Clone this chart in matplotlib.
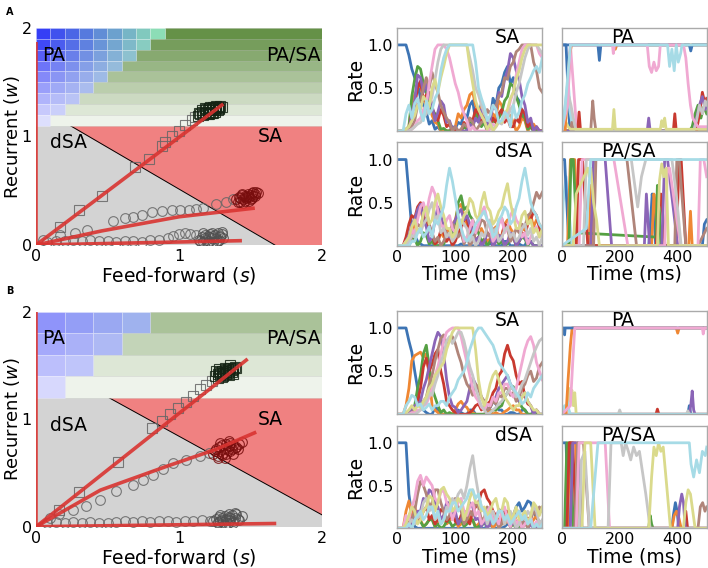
import numpy as np
import matplotlib
matplotlib.use("Agg")
import matplotlib.pyplot as plt
from matplotlib.patches import Polygon

# ---------------- phase diagrams (feed-forward s vs recurrent w) ----------------
a_split = 1.1                       # lower edge of the PA / PA-SA band
a_edge_s = [0.24, 1.67]             # dSA / SA boundary
a_edge_w = [1.1, 0.0]
a_blue_cols = [9, 8, 7, 6, 5, 4, 3, 2, 1]     # PA cells per row (top to bottom)
a_blue_alpha = [0.9, 0.85, 0.75, 0.65, 0.55, 0.45, 0.35, 0.25, 0.15]
a_green_alpha = [0.9, 0.8, 0.7, 0.6, 0.5, 0.4, 0.3, 0.2, 0.1]

b_split = 1.2
b_edge_s = [0.51, 2.0]
b_edge_w = [1.2, 0.11]
b_blue_cols = [4, 3, 2, 1]
b_blue_alpha = [0.5, 0.4, 0.3, 0.18]
b_green_alpha = [0.5, 0.35, 0.2, 0.1]

# fitted lines (red)
a_fit_s = [[0, 1.31], [0, 0.46, 1.0, 1.53], [0, 1.44], [0, 0]]
a_fit_w = [[0, 1.30], [0, 0.13, 0.26, 0.34], [0, 0.04], [0, 1.87]]
b_fit_s = [[0, 1.48], [0, 0.45, 0.91, 1.26, 1.54], [0, 1.68], [0, 0]]
b_fit_w = [[0, 1.56], [0, 0.34, 0.56, 0.72, 0.88], [0, 0.03], [0, 2.0]]

# trajectories: squares, middle circles, lower circles
a_sq_s = [0.17, 0.30, 0.46, 0.69, 0.79, 0.88, 0.90, 0.95, 1.00, 1.04, 1.09, 1.11]
a_sq_w = [0.17, 0.32, 0.45, 0.72, 0.79, 0.91, 0.95, 1.00, 1.05, 1.11, 1.15, 1.18]
a_sq_end_s = [1.13, 1.15, 1.16, 1.18, 1.19, 1.20, 1.21, 1.22, 1.23, 1.24, 1.25, 1.26, 1.27, 1.28, 1.29,
              1.30, 1.17, 1.19, 1.21, 1.23, 1.25, 1.27, 1.14, 1.16, 1.18, 1.20, 1.22, 1.24, 1.26, 1.28]
a_sq_end_w = [1.19, 1.21, 1.23, 1.22, 1.25, 1.24, 1.26, 1.23, 1.25, 1.27, 1.24, 1.26, 1.27, 1.25, 1.28,
              1.27, 1.20, 1.22, 1.21, 1.22, 1.23, 1.24, 1.22, 1.24, 1.26, 1.21, 1.27, 1.22, 1.28, 1.26]
a_c1_s = [0.05, 0.17, 0.27, 0.36, 0.54, 0.62, 0.68, 0.74, 0.81, 0.88, 0.95, 1.01, 1.07, 1.12, 1.17, 1.26, 1.33, 1.38]
a_c1_w = [0.05, 0.09, 0.11, 0.14, 0.22, 0.25, 0.26, 0.28, 0.30, 0.31, 0.32, 0.32, 0.32, 0.33, 0.34, 0.38, 0.40, 0.42]
a_c1_end_s = [1.40, 1.42, 1.43, 1.44, 1.45, 1.46, 1.47, 1.48, 1.49, 1.50, 1.51, 1.52, 1.53, 1.54,
              1.55, 1.43, 1.45, 1.47, 1.49, 1.51, 1.53, 1.41, 1.44, 1.46, 1.48, 1.50, 1.52]
a_c1_end_w = [0.42, 0.44, 0.40, 0.46, 0.42, 0.45, 0.43, 0.47, 0.44, 0.46, 0.48, 0.45, 0.47, 0.49,
              0.48, 0.43, 0.39, 0.44, 0.41, 0.43, 0.45, 0.40, 0.47, 0.41, 0.45, 0.42, 0.49]
a_c2_s = [0.08, 0.14, 0.20, 0.26, 0.32, 0.38, 0.44, 0.50, 0.56, 0.62, 0.68, 0.74, 0.80, 0.86, 0.92, 0.96, 1.00, 1.04, 1.08, 1.12]
a_c2_w = [0.03, 0.04, 0.04, 0.05, 0.04, 0.05, 0.04, 0.04, 0.03, 0.04, 0.04, 0.03, 0.05, 0.05, 0.06, 0.08, 0.10, 0.11, 0.10, 0.09]
a_c2_end_s = [1.14, 1.16, 1.17, 1.18, 1.19, 1.20, 1.21, 1.22, 1.23, 1.24, 1.25, 1.26, 1.27, 1.28,
              1.29, 1.30, 1.31, 1.15, 1.18, 1.21, 1.24, 1.27, 1.30, 1.17, 1.20, 1.23, 1.26, 1.29]
a_c2_end_w = [0.05, 0.07, 0.03, 0.09, 0.05, 0.08, 0.04, 0.10, 0.06, 0.03, 0.09, 0.06, 0.11, 0.05,
              0.08, 0.10, 0.06, 0.04, 0.06, 0.07, 0.08, 0.04, 0.12, 0.11, 0.02, 0.11, 0.03, 0.07]

b_sq_s = [0.16, 0.30, 0.57, 0.81, 0.88, 0.94, 0.99, 1.05, 1.10, 1.15, 1.19, 1.23]
b_sq_w = [0.16, 0.32, 0.60, 0.92, 0.98, 1.05, 1.10, 1.16, 1.22, 1.28, 1.32, 1.36]
b_sq_end_s = [1.25, 1.27, 1.28, 1.29, 1.30, 1.31, 1.32, 1.33, 1.34, 1.35, 1.36, 1.37, 1.38, 1.39,
              1.40, 1.27, 1.29, 1.31, 1.33, 1.35, 1.37, 1.26, 1.28, 1.30, 1.32, 1.34, 1.36, 1.38]
b_sq_end_w = [1.40, 1.42, 1.44, 1.41, 1.45, 1.43, 1.46, 1.44, 1.47, 1.45, 1.48, 1.46, 1.47, 1.49,
              1.48, 1.38, 1.43, 1.40, 1.42, 1.41, 1.44, 1.45, 1.47, 1.39, 1.48, 1.43, 1.50, 1.42]
b_c1_s = [0.10, 0.16, 0.26, 0.35, 0.45, 0.56, 0.68, 0.75, 0.82, 0.89, 0.96, 1.05, 1.15, 1.21]
b_c1_w = [0.08, 0.12, 0.16, 0.19, 0.25, 0.33, 0.39, 0.43, 0.48, 0.54, 0.59, 0.62, 0.66, 0.69]
b_c1_end_s = [1.24, 1.26, 1.27, 1.28, 1.29, 1.30, 1.31, 1.32, 1.33, 1.34, 1.35, 1.36, 1.37, 1.38,
              1.40, 1.42, 1.44, 1.27, 1.30, 1.33, 1.36, 1.39, 1.25, 1.29, 1.32, 1.35, 1.38, 1.41]
b_c1_end_w = [0.68, 0.72, 0.66, 0.74, 0.70, 0.76, 0.69, 0.73, 0.77, 0.71, 0.75, 0.78, 0.72, 0.76,
              0.74, 0.77, 0.79, 0.64, 0.67, 0.68, 0.70, 0.73, 0.70, 0.78, 0.64, 0.80, 0.68, 0.72]
b_c2_s = [0.08, 0.14, 0.20, 0.26, 0.32, 0.38, 0.44, 0.50, 0.56, 0.62, 0.68, 0.74, 0.80, 0.86, 0.92, 0.98, 1.04, 1.10, 1.16, 1.22]
b_c2_w = [0.03, 0.04, 0.03, 0.04, 0.03, 0.04, 0.03, 0.03, 0.04, 0.05, 0.04, 0.05, 0.04, 0.05, 0.05, 0.04, 0.05, 0.05, 0.06, 0.05]
b_c2_end_s = [1.24, 1.26, 1.27, 1.28, 1.29, 1.30, 1.31, 1.32, 1.33, 1.34, 1.35, 1.36, 1.37, 1.38,
              1.39, 1.40, 1.42, 1.44, 1.27, 1.30, 1.33, 1.36, 1.39, 1.29, 1.32, 1.35, 1.38, 1.41]
b_c2_end_w = [0.05, 0.07, 0.03, 0.09, 0.05, 0.08, 0.04, 0.10, 0.06, 0.03, 0.09, 0.06, 0.11, 0.05,
              0.08, 0.12, 0.06, 0.10, 0.04, 0.06, 0.07, 0.08, 0.13, 0.11, 0.02, 0.12, 0.03, 0.07]

# ---------------- rate traces ----------------
# short runs: one value every 5 ms from 0 to 250 ms, units 0..9
step_short = 5

a_sa_rates = [
    [1.0, 1.0, 1.0, 1.0, 0.88, 0.72, 0.62, 0.55, 0.38, 0.3, 0.22, 0.08, 0.12, 0.02, 0.05, 0.0, 0.0, 0.0, 0.0, 0.05, 0.03, 0.1, 0.08, 0.2, 0.15, 0.3, 0.35, 0.12, 0.18, 0.32, 0.25, 0.08, 0.12, 0.38, 0.3, 0.5, 0.55, 0.68, 0.75, 0.55, 0.62, 0.4, 0.35, 0.22, 0.15, 0.02, 0.05, 0.0, 0.0, 0.0, 0.0],
    [0, 0, 0, 0.02, 0.05, 0.3, 0.42, 0.5, 0.55, 0.38, 0.3, 0.32, 0.18, 0.1, 0.08, 0.0, 0.02, 0.0, 0.0, 0.02, 0.05, 0.2, 0.15, 0.25, 0.3, 0.42, 0.45, 0.3, 0.22, 0.28, 0.12, 0.02, 0.05, 0.2, 0.15, 0.35, 0.3, 0.12, 0.2, 0.18, 0.1, 0.0, 0.05, 0.15, 0.12, 0.0, 0.05, 0.08, 0.02, 0.0, 0.0],
    [0, 0, 0, 0.02, 0.05, 0.4, 0.6, 0.75, 0.72, 0.55, 0.45, 0.3, 0.25, 0.2, 0.12, 0.02, 0.03, 0.0, 0.0, 0.0, 0.0, 0.0, 0.0, 0.05, 0.02, 0.1, 0.08, 0.2, 0.15, 0.05, 0.1, 0.0, 0.05, 0.12, 0.1, 0.15, 0.22, 0.35, 0.4, 0.55, 0.52, 0.4, 0.3, 0.18, 0.15, 0.02, 0.05, 0.0, 0.0, 0.0, 0.0],
    [0, 0, 0, 0.0, 0.02, 0.2, 0.3, 0.5, 0.58, 0.35, 0.42, 0.45, 0.28, 0.15, 0.12, 0.25, 0.18, 0.05, 0.08, 0.0, 0.02, 0.0, 0.0, 0.1, 0.05, 0.15, 0.12, 0.25, 0.2, 0.1, 0.15, 0.02, 0.08, 0.15, 0.1, 0.2, 0.25, 0.1, 0.15, 0.05, 0.05, 0.15, 0.1, 0.25, 0.2, 0.05, 0.1, 0.0, 0.05, 0.0, 0.0],
    [0, 0, 0, 0.0, 0.0, 0.2, 0.35, 0.65, 0.62, 0.45, 0.55, 0.38, 0.3, 0.12, 0.22, 0.35, 0.3, 0.1, 0.12, 0.02, 0.05, 0.0, 0.0, 0.0, 0.0, 0.08, 0.05, 0.15, 0.1, 0.25, 0.2, 0.05, 0.12, 0.3, 0.25, 0.45, 0.4, 0.6, 0.7, 0.9, 0.85, 0.7, 0.6, 0.4, 0.3, 0.1, 0.15, 0.0, 0.05, 0.0, 0.0],
    [0, 0, 0, 0.0, 0.0, 0.05, 0.12, 0.3, 0.35, 0.5, 0.62, 0.5, 0.68, 0.55, 0.45, 0.3, 0.22, 0.15, 0.1, 0.0, 0.05, 0.0, 0.02, 0.08, 0.05, 0.15, 0.1, 0.0, 0.05, 0.1, 0.12, 0.25, 0.2, 0.3, 0.28, 0.4, 0.45, 0.62, 0.6, 0.75, 0.8, 0.92, 0.95, 1.0, 1.0, 1.0, 1.0, 0.8, 0.7, 0.5, 0.45],
    [0, 0, 0, 0.0, 0.0, 0.02, 0.05, 0.12, 0.15, 0.25, 0.3, 0.55, 0.75, 0.95, 1.0, 1.0, 1.0, 0.95, 0.85, 0.7, 0.55, 0.45, 0.3, 0.2, 0.12, 0.0, 0.05, 0.0, 0.0, 0.0, 0.0, 0.0, 0.02, 0.08, 0.05, 0.12, 0.1, 0.15, 0.2, 0.35, 0.45, 0.65, 0.8, 0.95, 1.0, 1.0, 1.0, 1.0, 1.0, 0.9, 0.85],
    [0, 0, 0, 0.0, 0.0, 0.02, 0.05, 0.08, 0.1, 0.15, 0.2, 0.3, 0.4, 0.6, 0.8, 0.95, 1.0, 1.0, 1.0, 1.0, 1.0, 1.0, 1.0, 1.0, 1.0, 0.85, 0.7, 0.5, 0.42, 0.3, 0.2, 0.15, 0.1, 0.02, 0.05, 0.1, 0.08, 0.2, 0.15, 0.25, 0.3, 0.45, 0.55, 0.7, 0.85, 0.95, 1.0, 1.0, 1.0, 0.95, 0.9],
    [0, 0, 0, 0.02, 0.05, 0.12, 0.18, 0.3, 0.25, 0.4, 0.35, 0.28, 0.5, 0.6, 0.45, 0.62, 0.75, 0.9, 1.0, 1.0, 1.0, 1.0, 1.0, 1.0, 1.0, 0.75, 0.55, 0.35, 0.25, 0.18, 0.12, 0.02, 0.08, 0.0, 0.05, 0.12, 0.1, 0.2, 0.25, 0.38, 0.45, 0.6, 0.7, 0.85, 0.95, 1.0, 1.0, 1.0, 1.0, 1.0, 1.0],
    [0, 0, 0, 0.2, 0.3, 0.15, 0.32, 0.38, 0.22, 0.12, 0.35, 0.2, 0.25, 0.38, 0.45, 0.7, 0.85, 0.95, 1.0, 1.0, 1.0, 1.0, 1.0, 1.0, 1.0, 1.0, 1.0, 0.8, 0.5, 0.38, 0.28, 0.12, 0.18, 0.3, 0.25, 0.1, 0.12, 0.22, 0.18, 0.05, 0.3, 0.15, 0.22, 0.35, 0.42, 0.55, 0.62, 0.7, 0.75, 0.68, 0.85],
]
a_dsa_rates = [
    [1.0, 1.0, 1.0, 1.0, 0.6, 0.2, 0.12, 0.05, 0.02, 0.0, 0.0, 0.0, 0.0, 0.0, 0.0, 0.0, 0.0, 0.0, 0.0, 0.0, 0.0, 0.0, 0.02, 0.0, 0.0, 0.0, 0.0, 0.0, 0.0, 0.0, 0.0, 0.0, 0.03, 0.0, 0.0, 0.0, 0.0, 0.05, 0.05, 0.0, 0.0, 0.0, 0.02, 0.0, 0.0, 0.08, 0.05, 0.0, 0.0, 0.0, 0.0],
    [0, 0, 0, 0.02, 0.05, 0.15, 0.25, 0.4, 0.42, 0.3, 0.28, 0.2, 0.12, 0.02, 0.05, 0.15, 0.1, 0.2, 0.15, 0.25, 0.3, 0.45, 0.48, 0.35, 0.25, 0.1, 0.15, 0.02, 0.05, 0.2, 0.12, 0.05, 0.08, 0.18, 0.22, 0.1, 0.12, 0.25, 0.3, 0.2, 0.15, 0.02, 0.05, 0.2, 0.18, 0.3, 0.35, 0.22, 0.3, 0.25, 0.18],
    [0, 0, 0, 0.02, 0.0, 0.1, 0.08, 0.0, 0.05, 0.15, 0.12, 0.02, 0.05, 0.0, 0.0, 0.0, 0.02, 0.1, 0.08, 0.15, 0.22, 0.5, 0.58, 0.42, 0.45, 0.35, 0.3, 0.2, 0.15, 0.05, 0.08, 0.0, 0.05, 0.12, 0.1, 0.02, 0.05, 0.0, 0.02, 0.08, 0.1, 0.0, 0.05, 0.1, 0.08, 0.0, 0.05, 0.0, 0.0, 0.0, 0.0],
    [0, 0, 0, 0.1, 0.25, 0.35, 0.32, 0.45, 0.5, 0.35, 0.28, 0.2, 0.12, 0.02, 0.05, 0.18, 0.15, 0.05, 0.1, 0.0, 0.05, 0.15, 0.2, 0.3, 0.32, 0.15, 0.22, 0.05, 0.1, 0.0, 0.05, 0.15, 0.12, 0.0, 0.05, 0.12, 0.1, 0.25, 0.22, 0.08, 0.12, 0.0, 0.05, 0.15, 0.12, 0.25, 0.3, 0.4, 0.35, 0.2, 0.12],
    [0, 0, 0, 0.05, 0.12, 0.25, 0.3, 0.42, 0.48, 0.3, 0.22, 0.05, 0.1, 0.3, 0.45, 0.35, 0.22, 0.12, 0.1, 0.22, 0.3, 0.38, 0.42, 0.3, 0.35, 0.25, 0.18, 0.05, 0.1, 0.0, 0.05, 0.15, 0.12, 0.0, 0.05, 0.12, 0.1, 0.0, 0.05, 0.15, 0.12, 0.0, 0.05, 0.12, 0.1, 0.02, 0.05, 0.0, 0.0, 0.0, 0.0],
    [0, 0, 0, 0.0, 0.05, 0.1, 0.12, 0.25, 0.22, 0.35, 0.42, 0.25, 0.15, 0.05, 0.1, 0.0, 0.05, 0.15, 0.12, 0.25, 0.22, 0.1, 0.15, 0.02, 0.1, 0.0, 0.05, 0.15, 0.2, 0.3, 0.28, 0.15, 0.1, 0.2, 0.15, 0.28, 0.32, 0.2, 0.2, 0.05, 0.1, 0.2, 0.15, 0.25, 0.22, 0.35, 0.38, 0.5, 0.62, 0.55, 0.62],
    [0, 0, 0, 0.05, 0.0, 0.2, 0.12, 0.3, 0.45, 0.5, 0.35, 0.55, 0.68, 0.6, 0.4, 0.25, 0.2, 0.3, 0.35, 0.2, 0.15, 0.28, 0.22, 0.05, 0.1, 0.2, 0.3, 0.15, 0.25, 0.38, 0.45, 0.3, 0.2, 0.05, 0.1, 0.25, 0.32, 0.15, 0.2, 0.35, 0.42, 0.3, 0.25, 0.1, 0.15, 0.02, 0.1, 0.18, 0.22, 0.1, 0.15],
    [0, 0, 0, 0.0, 0.05, 0.12, 0.1, 0.2, 0.15, 0.25, 0.3, 0.42, 0.5, 0.3, 0.35, 0.15, 0.2, 0.1, 0.15, 0.05, 0.1, 0.22, 0.3, 0.25, 0.2, 0.05, 0.1, 0.0, 0.05, 0.15, 0.1, 0.22, 0.3, 0.15, 0.2, 0.05, 0.1, 0.18, 0.22, 0.1, 0.15, 0.05, 0.1, 0.2, 0.25, 0.12, 0.2, 0.05, 0.1, 0.0, 0.1],
    [0, 0, 0, 0.05, 0.1, 0.22, 0.3, 0.15, 0.2, 0.38, 0.45, 0.25, 0.3, 0.5, 0.6, 0.45, 0.35, 0.2, 0.2, 0.1, 0.15, 0.3, 0.25, 0.35, 0.4, 0.55, 0.5, 0.35, 0.3, 0.5, 0.62, 0.45, 0.4, 0.25, 0.3, 0.4, 0.45, 0.6, 0.72, 0.5, 0.35, 0.2, 0.2, 0.35, 0.4, 0.25, 0.3, 0.15, 0.2, 0.1, 0.2],
    [0, 0, 0, 0.0, 0.0, 0.05, 0.05, 0.15, 0.2, 0.1, 0.15, 0.22, 0.1, 0.3, 0.25, 0.35, 0.45, 0.7, 0.9, 0.75, 0.55, 0.35, 0.2, 0.1, 0.05, 0.1, 0.15, 0.25, 0.3, 0.35, 0.4, 0.3, 0.25, 0.1, 0.15, 0.3, 0.35, 0.45, 0.4, 0.25, 0.3, 0.45, 0.55, 0.75, 0.9, 0.7, 0.5, 0.4, 0.35, 0.25, 0.2],
]
b_sa_rates = [
    [1.0, 1.0, 1.0, 1.0, 0.85, 0.72, 0.5, 0.3, 0.1, 0.05, 0.02, 0.0, 0.0, 0.08, 0.05, 0.0, 0.0, 0.0, 0.0, 0.0, 0.0, 0.05, 0.02, 0.0, 0.0, 0.05, 0.05, 0.0, 0.0, 0.0, 0.0, 0.05, 0.08, 0.15, 0.12, 0.05, 0.05, 0.0, 0.0, 0.02, 0.02, 0.0, 0.0, 0.05, 0.05, 0.0, 0.0, 0.02, 0.02, 0.0, 0.0],
    [0, 0, 0, 0.1, 0.3, 0.62, 0.68, 0.7, 0.72, 0.66, 0.7, 0.45, 0.1, 0.05, 0.02, 0.0, 0.0, 0.0, 0.0, 0.0, 0.05, 0.12, 0.15, 0.1, 0.08, 0.02, 0.02, 0.0, 0.0, 0.0, 0.0, 0.03, 0.05, 0.0, 0.02, 0.0, 0.0, 0.03, 0.05, 0.08, 0.1, 0.05, 0.05, 0.0, 0.0, 0.0, 0.0, 0.0, 0.0, 0.0, 0.0],
    [0, 0, 0, 0.0, 0.0, 0.05, 0.1, 0.3, 0.45, 0.7, 0.8, 0.55, 0.3, 0.2, 0.1, 0.02, 0.05, 0.0, 0.02, 0.0, 0.0, 0.0, 0.0, 0.0, 0.0, 0.0, 0.0, 0.0, 0.0, 0.0, 0.0, 0.0, 0.02, 0.05, 0.05, 0.08, 0.1, 0.2, 0.25, 0.3, 0.32, 0.2, 0.15, 0.08, 0.05, 0.0, 0.0, 0.0, 0.0, 0.0, 0.0],
    [0, 0, 0, 0, 0, 0.02, 0.05, 0.15, 0.3, 0.55, 0.65, 0.5, 0.58, 0.7, 0.75, 0.5, 0.35, 0.15, 0.1, 0.05, 0.02, 0, 0, 0, 0, 0.02, 0.05, 0.1, 0.12, 0.05, 0.08, 0.12, 0.15, 0.25, 0.3, 0.45, 0.5, 0.7, 0.8, 0.68, 0.62, 0.45, 0.35, 0.38, 0.2, 0.12, 0.1, 0.02, 0.05, 0, 0],
    [0, 0, 0, 0, 0, 0.05, 0.1, 0.12, 0.15, 0.3, 0.4, 0.55, 0.7, 0.85, 0.95, 0.9, 0.7, 0.4, 0.2, 0.1, 0.08, 0.02, 0.05, 0.1, 0.15, 0.3, 0.42, 0.35, 0.3, 0.2, 0.15, 0.05, 0.08, 0.15, 0.2, 0.3, 0.35, 0.4, 0.45, 0.35, 0.3, 0.2, 0.15, 0.2, 0.25, 0.15, 0.1, 0.0, 0.05, 0.0, 0.0],
    [0, 0, 0, 0, 0, 0.02, 0.05, 0.12, 0.1, 0.15, 0.2, 0.35, 0.45, 0.62, 0.75, 0.88, 0.92, 0.8, 0.85, 0.9, 0.82, 0.7, 0.6, 0.45, 0.35, 0.3, 0.22, 0.35, 0.3, 0.2, 0.15, 0.05, 0.08, 0.15, 0.12, 0.22, 0.2, 0.3, 0.3, 0.22, 0.25, 0.15, 0.2, 0.3, 0.35, 0.45, 0.5, 0.38, 0.42, 0.55, 0.6],
    [0, 0, 0, 0, 0, 0.02, 0.02, 0.05, 0.05, 0.1, 0.12, 0.2, 0.3, 0.45, 0.55, 0.7, 0.85, 0.95, 0.98, 1.0, 1.0, 1.0, 0.9, 0.75, 0.6, 0.45, 0.3, 0.2, 0.15, 0.08, 0.05, 0.12, 0.1, 0.2, 0.15, 0.25, 0.25, 0.35, 0.35, 0.25, 0.2, 0.3, 0.45, 0.6, 0.75, 0.85, 0.9, 0.8, 0.6, 0.5, 0.4],
    [0, 0, 0, 0, 0, 0, 0, 0.02, 0.05, 0.1, 0.15, 0.25, 0.22, 0.35, 0.45, 0.6, 0.7, 0.85, 0.9, 0.82, 0.88, 0.95, 0.95, 0.85, 0.7, 0.55, 0.45, 0.3, 0.2, 0.1, 0.05, 0.0, 0.02, 0.05, 0.08, 0.12, 0.15, 0.2, 0.25, 0.3, 0.3, 0.2, 0.25, 0.35, 0.4, 0.5, 0.6, 0.7, 0.78, 0.85, 0.88],
    [0, 0, 0, 0.02, 0.05, 0.1, 0.05, 0.1, 0.08, 0.15, 0.2, 0.3, 0.35, 0.45, 0.5, 0.55, 0.6, 0.75, 0.85, 0.95, 1.0, 1.0, 1.0, 1.0, 1.0, 1.0, 1.0, 0.75, 0.4, 0.2, 0.1, 0.2, 0.35, 0.45, 0.5, 0.4, 0.3, 0.2, 0.15, 0.1, 0.05, 0.1, 0.1, 0.2, 0.25, 0.15, 0.1, 0.05, 0.05, 0.0, 0.0],
    [0, 0, 0, 0.1, 0.15, 0.22, 0.2, 0.1, 0.12, 0.05, 0.08, 0.12, 0.05, 0.1, 0.1, 0.15, 0.15, 0.1, 0.2, 0.25, 0.3, 0.4, 0.45, 0.5, 0.6, 0.75, 0.85, 0.95, 1.0, 1.0, 0.95, 0.9, 0.85, 0.8, 0.7, 0.6, 0.55, 0.5, 0.45, 0.35, 0.3, 0.25, 0.2, 0.12, 0.15, 0.25, 0.2, 0.3, 0.35, 0.4, 0.45],
]
b_dsa_rates = [
    [1.0, 1.0, 1.0, 1.0, 0.4, 0.15, 0.02, 0.0, 0.0, 0.0, 0.0, 0.0, 0.0, 0.0, 0.0, 0.0, 0.0, 0.0, 0.0, 0.0, 0.0, 0.0, 0.0, 0.0, 0.0, 0.0, 0.0, 0.0, 0.0, 0.0, 0.0, 0.02, 0.05, 0.0, 0.0, 0.0, 0.0, 0.02, 0.05, 0.1, 0.15, 0.25, 0.3, 0.2, 0.25, 0.32, 0.3, 0.2, 0.12, 0.08, 0.05],
    [0, 0, 0, 0.2, 0.32, 0.15, 0.25, 0.12, 0.1, 0.02, 0.05, 0.1, 0.12, 0.02, 0.05, 0.1, 0.15, 0.05, 0.08, 0.15, 0.1, 0.02, 0.05, 0.15, 0.2, 0.08, 0.1, 0.02, 0.05, 0.1, 0.12, 0.05, 0.08, 0.0, 0.05, 0.1, 0.15, 0.05, 0.1, 0.02, 0.05, 0.15, 0.2, 0.05, 0.1, 0.0, 0.05, 0.1, 0.15, 0.05, 0.08],
    [0, 0, 0, 0.02, 0.0, 0.05, 0.05, 0.1, 0.08, 0.02, 0.05, 0.1, 0.1, 0.02, 0.05, 0.0, 0.02, 0.08, 0.08, 0.02, 0.05, 0.1, 0.12, 0.02, 0.05, 0.1, 0.1, 0.0, 0.02, 0.05, 0.05, 0.1, 0.08, 0.15, 0.15, 0.02, 0.05, 0.08, 0.1, 0.02, 0.05, 0.0, 0.02, 0.05, 0.05, 0.1, 0.1, 0.02, 0.05, 0.0, 0.02],
    [0, 0, 0, 0.05, 0.1, 0.25, 0.2, 0.08, 0.12, 0.2, 0.25, 0.1, 0.15, 0.05, 0.1, 0.22, 0.2, 0.08, 0.12, 0.2, 0.08, 0.05, 0.15, 0.2, 0.1, 0.05, 0.2, 0.25, 0.3, 0.42, 0.45, 0.35, 0.3, 0.2, 0.15, 0.05, 0.1, 0.2, 0.2, 0.1, 0.15, 0.05, 0.1, 0.0, 0.05, 0.12, 0.1, 0.0, 0.05, 0.02, 0.02],
    [0, 0, 0, 0, 0, 0.05, 0.1, 0.2, 0.2, 0.35, 0.32, 0.45, 0.42, 0.3, 0.25, 0.1, 0.15, 0.3, 0.3, 0.15, 0.2, 0.05, 0.1, 0.2, 0.15, 0.3, 0.25, 0.1, 0.12, 0.02, 0.1, 0.0, 0.05, 0.15, 0.1, 0.22, 0.2, 0.1, 0.12, 0.02, 0.08, 0.0, 0.05, 0.12, 0.1, 0.0, 0.05, 0.0, 0.02, 0.0, 0.0],
    [0, 0, 0, 0.1, 0.05, 0.1, 0.2, 0.4, 0.55, 0.5, 0.4, 0.25, 0.3, 0.45, 0.45, 0.3, 0.2, 0.1, 0.15, 0.3, 0.35, 0.25, 0.2, 0.05, 0.1, 0.2, 0.15, 0.3, 0.25, 0.1, 0.12, 0.25, 0.2, 0.05, 0.1, 0.0, 0.05, 0.15, 0.15, 0.05, 0.1, 0.2, 0.2, 0.05, 0.12, 0.0, 0.1, 0.2, 0.15, 0.25, 0.2],
    [0, 0, 0, 0.15, 0.1, 0.25, 0.35, 0.55, 0.62, 0.5, 0.6, 0.55, 0.5, 0.35, 0.3, 0.42, 0.45, 0.3, 0.25, 0.1, 0.2, 0.3, 0.35, 0.2, 0.15, 0.25, 0.3, 0.15, 0.2, 0.05, 0.1, 0.2, 0.25, 0.1, 0.12, 0.05, 0.2, 0.25, 0.1, 0.02, 0.15, 0.05, 0.1, 0.0, 0.05, 0.1, 0.12, 0.02, 0.08, 0.0, 0.05],
    [0, 0, 0, 0, 0.05, 0.1, 0.05, 0.12, 0.15, 0.3, 0.35, 0.2, 0.25, 0.1, 0.15, 0.05, 0.1, 0.25, 0.2, 0.35, 0.3, 0.4, 0.45, 0.35, 0.5, 0.7, 0.85, 0.6, 0.4, 0.25, 0.2, 0.05, 0.15, 0.2, 0.1, 0.2, 0.2, 0.05, 0.15, 0.2, 0.1, 0.0, 0.05, 0.15, 0.1, 0.2, 0.15, 0.25, 0.2, 0.05, 0.1],
    [0, 0, 0, 0.05, 0.15, 0.25, 0.2, 0.05, 0.1, 0.2, 0.25, 0.38, 0.35, 0.2, 0.3, 0.45, 0.48, 0.4, 0.35, 0.2, 0.25, 0.35, 0.3, 0.1, 0.2, 0.35, 0.45, 0.3, 0.3, 0.2, 0.25, 0.15, 0.2, 0.3, 0.35, 0.2, 0.2, 0.35, 0.3, 0.1, 0.15, 0.25, 0.1, 0.15, 0.2, 0.05, 0.15, 0.3, 0.25, 0.15, 0.25],
    [0, 0, 0, 0, 0.05, 0.0, 0.1, 0.15, 0.2, 0.1, 0.15, 0.25, 0.25, 0.12, 0.2, 0.05, 0.1, 0.2, 0.2, 0.3, 0.3, 0.2, 0.25, 0.3, 0.35, 0.45, 0.45, 0.35, 0.4, 0.25, 0.2, 0.1, 0.15, 0.05, 0.1, 0.2, 0.2, 0.1, 0.15, 0.05, 0.1, 0.15, 0.2, 0.1, 0.15, 0.05, 0.1, 0.0, 0.05, 0.0, 0.05],
]

# long runs: unit id, sample times (ms), rates
a_pa_units = [10, 19, 16, 5, 2, 3, 4, 7, 8, 1, 0, 6, 9]
a_pa_times = [
    [0, 15, 28, 500],
    [0, 12, 22, 30, 40, 500],
    [0, 22, 30, 40, 52, 500],
    [0, 30, 35, 40, 100, 107, 112, 118, 500],
    [0, 440, 450, 460, 470, 480, 490, 500],
    [0, 55, 60, 65, 385, 390, 395, 465, 475, 485, 495, 500],
    [0, 295, 300, 305, 455, 465, 475, 485, 495, 500],
    [0, 15, 25, 32, 40, 50, 455, 465, 475, 485, 495, 500],
    [0, 15, 22, 30, 175, 180, 185, 340, 345, 350, 355, 360, 500],
    [0, 12, 20, 28, 34, 180, 185, 190, 500],
    [0, 125, 130, 135, 440, 445, 450, 500],
    [0, 20, 30, 175, 178, 182, 295, 302, 310, 318, 326, 334, 340, 420, 428, 436, 444, 452, 460, 470, 500],
    [0, 10, 20, 30, 365, 372, 380, 388, 395, 402, 410, 415, 500],
]
a_pa_rates = [
    [1, 1, 0, 0],
    [0, 0.3, 0.6, 0.2, 0, 0],
    [0, 0.4, 1, 0.55, 0, 0],
    [0, 0, 0.1, 0, 0, 0.35, 0.15, 0, 0],
    [0, 0, 0.05, 0.2, 0.3, 0.15, 0.28, 0.2],
    [0, 0, 0.22, 0, 0, 0.2, 0, 0, 0.2, 0.45, 0.3, 0.38],
    [0, 0, 0.15, 0, 0, 0.15, 0.3, 0.4, 0.25, 0.3],
    [0, 0.15, 0.4, 0.3, 0.15, 0, 0, 0.12, 0.3, 0.2, 0.35, 0.3],
    [0, 0.1, 0.05, 0.02, 0.02, 0.25, 0.02, 0.02, 0.12, 0.05, 0.15, 0.02, 0.02],
    [0, 0, 0.5, 0.9, 1, 1, 0.95, 1, 1],
    [1, 1, 0.82, 1, 1, 0.93, 1, 1],
    [0, 0.3, 1, 1, 0.9, 1, 1, 0.75, 0.68, 0.8, 0.7, 0.75, 1, 1, 0.85, 0.55, 0.3, 0.15, 0.1, 0.05, 0.05],
    [0, 0.2, 0.6, 1, 1, 0.75, 0.95, 0.7, 1, 0.8, 0.9, 1, 1],
]

a_pasa_units = [19, 0, 1, 2, 3, 4, 5, 6, 7, 8, 9]
a_pasa_times = [
    [0, 5, 15, 25, 35, 500],
    [0, 10, 25, 300, 305, 312, 318, 324, 485, 492, 500],
    [0, 20, 30, 45, 57, 95, 100, 105, 110, 310, 318, 324, 330, 438, 444, 450, 500],
    [0, 25, 32, 40, 52, 325, 330, 336, 342, 500],
    [0, 50, 58, 72, 90, 326, 335, 342, 350, 356, 395, 405, 412, 428, 500],
    [0, 100, 110, 140, 150, 172, 285, 292, 303, 345, 355, 365, 400, 500],
    [0, 110, 118, 200, 225, 258, 390, 397, 405, 428, 470, 485, 500],
    [0, 60, 70, 120, 125, 180, 228, 355, 365, 372, 410, 470, 478, 490, 500],
    [0, 75, 85, 240, 252, 262, 275, 290, 380, 395, 412, 500],
    [0, 40, 50, 90, 95, 100, 110, 120, 130, 330, 337, 345, 352, 360, 368, 500],
    [0, 85, 100, 500],
]
a_pasa_rates = [
    [0, 0.5, 0.8, 0.4, 0, 0],
    [1, 1, 0, 0, 0.2, 0.6, 0.4, 0, 0, 0.25, 0.3],
    [0, 0, 1, 1, 0, 0, 0.7, 0.6, 0, 0, 0.6, 0.45, 0, 0, 0.4, 0, 0],
    [0, 0, 1, 1, 0.15, 0.1, 0.7, 0.5, 0, 0],
    [0, 0, 1, 1, 0, 0, 0.45, 0.6, 0.3, 0, 0, 1, 1, 0, 0],
    [0, 0, 1, 1, 1, 0, 0, 0.6, 0, 0, 1, 1, 0, 0],
    [0, 0, 1, 1, 1, 0, 0, 1, 1, 0, 0, 0.1, 0.2],
    [0, 0, 1, 1, 1, 1, 0, 0, 0.9, 0.9, 0, 0, 1, 1, 0.8],
    [0, 0, 1, 1, 0.7, 0.45, 0.8, 1, 1, 0.6, 0, 0],
    [0, 0, 0.6, 0.9, 0.8, 0.9, 0.5, 0.3, 0, 0, 0.75, 0.95, 0.8, 0.9, 0, 0],
    [0, 0.2, 1, 1],
]

b_pa_units = [10, 2, 5, 3, 4, 7, 8, 9, 1, 0, 6]
b_pa_times = [
    [0, 435, 440, 445, 500],
    [0, 500],
    [0, 500],
    [0, 325, 330, 335, 500],
    [0, 440, 445, 450, 455, 460, 500],
    [0, 195, 200, 205, 430, 435, 440, 500],
    [0, 20, 25, 30, 35, 40, 45, 50, 500],
    [0, 10, 15, 20, 25, 30, 500],
    [0, 15, 22, 30, 36, 395, 400, 405, 500],
    [0, 8, 10, 12, 500],
    [0, 30, 38, 45, 485, 488, 492, 500],
]
b_pa_rates = [
    [0, 0, 0.1, 0, 0],
    [0, 0],
    [0, 0],
    [0, 0, 0.06, 0, 0],
    [0, 0, 0.1, 0.27, 0.05, 0, 0],
    [0, 0, 0.05, 0, 0, 0.04, 0, 0],
    [0, 0.1, 0.3, 0.15, 0.28, 0.1, 0.25, 0, 0],
    [0, 0.1, 0.05, 0.15, 0.05, 0, 0],
    [0, 0, 0.4, 0.8, 1, 1, 0.94, 1, 1],
    [1, 1, 0.92, 1, 1],
    [0, 0.1, 0.6, 1, 1, 0.93, 1, 1],
]

b_pasa_units = [0, 1, 2, 3, 4, 5, 6, 7, 8, 9]
b_pasa_times = [
    [0, 15, 25, 380, 385, 392, 398, 404, 500],
    [0, 20, 28, 48, 60, 380, 388, 396, 404, 412, 500],
    [0, 10, 18, 30, 40, 300, 305, 310, 315, 500],
    [0, 18, 26, 38, 50, 422, 428, 434, 500],
    [0, 30, 38, 55, 70, 400, 406, 414, 420, 426, 500],
    [0, 45, 55, 75, 95, 470, 478, 486, 494, 500],
    [0, 50, 60, 150, 165, 500],
    [0, 60, 68, 80, 95, 160, 170, 205, 212, 220, 230, 238, 248, 258, 268, 290, 305, 500],
    [0, 70, 80, 100, 115, 300, 310, 318, 326, 334, 342, 350, 362, 375, 420, 428, 436, 444, 452, 460, 500],
    [0, 100, 125, 440, 446, 455, 465, 475, 485, 495, 500],
]
b_pasa_rates = [
    [1, 1, 0, 0, 0.15, 0.3, 0.2, 0, 0],
    [0, 0, 1, 1, 0, 0, 0.15, 0.2, 0.12, 0, 0],
    [0, 0, 1, 1, 0, 0, 0.15, 0.05, 0, 0],
    [0, 0, 1, 1, 0, 0, 0.2, 0, 0],
    [0, 0, 1, 1, 0, 0, 0.25, 0.4, 0.3, 0, 0],
    [0, 0, 1, 1, 0, 0, 0.25, 0.3, 0.2, 0.25],
    [0, 0, 1, 1, 0, 0],
    [0, 0, 0.8, 0.9, 0, 0, 1, 1, 0.85, 1, 0.9, 0.8, 0.95, 0.85, 0.9, 0.4, 0, 0],
    [0, 0, 1, 1, 0, 0, 0.6, 0.95, 0.85, 1, 0.9, 0.95, 0.5, 0, 0, 0.3, 0.45, 0.4, 0.2, 0, 0],
    [0, 0, 1, 1, 0.75, 0.6, 0.8, 0.65, 0.9, 0.85, 0.95],
]

# ---------------- styling ----------------
palette = ['#3d74b4', '#ef8733', '#55a043', '#c8392f', '#8b65b7',
           '#b0857a', '#f0a9d2', '#c6c6c6', '#dada8c', '#a6dbe6']
BLUE = np.array([0.12, 0.16, 0.96])
MINT = np.array([0.50, 0.85, 0.68])
GREEN = np.array([0.33, 0.52, 0.20])
FIT = '#d93431'
LAB = 13.5
TICK = 11.5

plt.rcParams['font.family'] = ['DejaVu Sans']
plt.rcParams['mathtext.fontset'] = 'dejavusans'

fig = plt.figure(figsize=(7.08, 5.68), dpi=100)


def px_axes(left, top, right, bottom):
    return fig.add_axes([left / 708, 1 - bottom / 568, (right - left) / 708, (bottom - top) / 568])


def tint(base, a):
    return tuple(1 - a * (1 - base))


def phase(ax, split, edge_s, edge_w, blue_cols, blue_alpha, green_alpha, mint_max,
          fit_s, fit_w, trajs):
    nrow = len(blue_cols)
    h = (2 - split) / nrow
    # region backgrounds
    ax.add_patch(Polygon([(0, 0), (2, 0), (2, split), (0, split)], closed=True,
                         facecolor='#d3d3d3', edgecolor='none', zorder=0))
    red_poly = [(edge_s[0], edge_w[0]), (2, split)]
    if edge_w[1] > 0:
        red_poly += [(2, edge_w[1])]
    else:
        red_poly += [(2, 0), (edge_s[1], 0)]
    ax.add_patch(Polygon(red_poly, closed=True, facecolor='#f08181', edgecolor='none', zorder=0))
    ax.plot(edge_s, edge_w, color='k', lw=0.7, zorder=1)
    # PA / PA-SA bands
    for r in range(nrow):
        top = 2 - r * h
        n = blue_cols[r]
        ax.bar(n * h, h, width=2 - n * h, bottom=top - h, align='edge',
               color=tint(GREEN, green_alpha[r]), edgecolor=(0, 0, 0, 0.06), lw=0.6, zorder=1)
        for c in range(n):
            mix = min(c * h / 0.8, 1) * mint_max
            base = BLUE * (1 - mix) + MINT * mix
            ax.bar(c * h, h, width=h, bottom=top - h, align='edge',
                   color=tint(base, blue_alpha[r]), edgecolor=(1, 1, 1, 0.25), lw=0.6, zorder=1)
    # trajectories
    for s, w, marker, col, ms in trajs:
        ax.plot(s, w, ls='none', marker=marker, ms=ms, mfc='none', mec=col, mew=0.8, alpha=0.85, zorder=2)
    for s, w in zip(fit_s, fit_w):
        ax.plot(s, w, color=FIT, lw=2.6, alpha=0.9, zorder=3, solid_capstyle='butt')
    ax.set_xlim(0, 2)
    ax.set_ylim(0, 2)
    ax.set_xticks([0, 1, 2])
    ax.set_yticks([0, 1, 2])
    ax.tick_params(length=0, labelsize=TICK, pad=3)
    for sp in ax.spines.values():
        sp.set_visible(False)
    ax.set_xlabel('Feed-forward ($s$)', fontsize=LAB)
    ax.set_ylabel('Recurrent ($w$)', fontsize=LAB - 0.5)
    ax.xaxis.set_label_coords(0.5, -0.094)
    ax.yaxis.set_label_coords(-0.05, 0.5)
    ax.text(0.12, 1.75, 'PA', fontsize=LAB, ha='center', va='center', zorder=4)
    ax.text(1.80, 1.75, 'PA/SA', fontsize=LAB, ha='center', va='center', zorder=4)
    ax.text(1.64, 1.0, 'SA', fontsize=LAB, ha='center', va='center', zorder=4)
    ax.text(0.23, 0.945, 'dSA', fontsize=LAB, ha='center', va='center', zorder=4)


def traces(ax, times, rates, units, tmax, title, tx, left, bottom, xt):
    for t, r, u in zip(times, rates, units):
        ax.plot(t, r, color=palette[u % 10], lw=2.0)
    ax.set_xlim(0, tmax)
    ax.set_ylim(0, 1.2)
    ax.set_yticks([0.5, 1.0])
    ax.set_yticklabels(['0.5', '1.0'] if left else [])
    ax.set_xticks(xt)
    if bottom:
        ax.set_xticklabels([str(v) for v in xt])
        ax.set_xlabel('Time (ms)', fontsize=LAB)
        ax.xaxis.set_label_coords(0.5, -0.185)
    else:
        ax.set_xticklabels([])
    if left:
        ax.set_ylabel('Rate', fontsize=LAB)
        ax.yaxis.set_label_coords(-0.225, 0.5)
    ax.tick_params(length=0, labelsize=TICK, pad=3)
    for sp in ax.spines.values():
        sp.set_color('#aaaaaa')
        sp.set_linewidth(1.0)
    ax.text(tx, 1.0, title, transform=ax.transAxes, fontsize=LAB, ha='center', va='top')


# panel A
axA = px_axes(36, 28, 322, 245)
phase(axA, a_split, a_edge_s, a_edge_w, a_blue_cols, a_blue_alpha, a_green_alpha, 1.0,
      a_fit_s, a_fit_w,
      [(a_sq_s, a_sq_w, 's', '#666666', 7), (a_sq_end_s, a_sq_end_w, 's', '#142414', 7),
       (a_c1_s, a_c1_w, 'o', '#666666', 7), (a_c1_end_s, a_c1_end_w, 'o', '#780d0d', 7),
       (a_c2_s, a_c2_w, 'o', '#666666', 7), (a_c2_end_s, a_c2_end_w, 'o', '#505050', 7)])

# panel B
axB = px_axes(36, 311.7, 322, 526.7)
phase(axB, b_split, b_edge_s, b_edge_w, b_blue_cols, b_blue_alpha, b_green_alpha, 0.45,
      b_fit_s, b_fit_w,
      [(b_sq_s, b_sq_w, 's', '#666666', 7), (b_sq_end_s, b_sq_end_w, 's', '#142414', 7),
       (b_c1_s, b_c1_w, 'o', '#666666', 7), (b_c1_end_s, b_c1_end_w, 'o', '#780d0d', 7),
       (b_c2_s, b_c2_w, 'o', '#666666', 7), (b_c2_end_s, b_c2_end_w, 'o', '#505050', 7)])

short_units = list(range(10))


def short_times(rates):
    return [[step_short * i for i in range(len(r))] for r in rates]


traces(px_axes(397.3, 27.7, 542.3, 131), short_times(a_sa_rates), a_sa_rates, short_units, 250, 'SA', 0.76, True, False, [0, 100, 200])
traces(px_axes(561.7, 27.7, 706.7, 131), a_pa_times, a_pa_rates, a_pa_units, 500, 'PA', 0.42, False, False, [0, 200, 400])
traces(px_axes(397.3, 142.3, 542.3, 245.7), short_times(a_dsa_rates), a_dsa_rates, short_units, 250, 'dSA', 0.80, True, True, [0, 100, 200])
traces(px_axes(561.7, 142.3, 706.7, 245.7), a_pasa_times, a_pasa_rates, a_pasa_units, 500, 'PA/SA', 0.46, False, True, [0, 200, 400])

traces(px_axes(397.3, 310.7, 542.3, 414.3), short_times(b_sa_rates), b_sa_rates, short_units, 250, 'SA', 0.76, True, False, [0, 100, 200])
traces(px_axes(561.7, 310.7, 706.7, 414.3), b_pa_times, b_pa_rates, b_pa_units, 500, 'PA', 0.42, False, False, [0, 200, 400])
traces(px_axes(397.3, 425.7, 542.3, 528.3), short_times(b_dsa_rates), b_dsa_rates, short_units, 250, 'dSA', 0.80, True, True, [0, 100, 200])
traces(px_axes(561.7, 425.7, 706.7, 528.3), b_pasa_times, b_pasa_rates, b_pasa_units, 500, 'PA/SA', 0.46, False, True, [0, 200, 400])

fig.text(10 / 708, 1 - 12 / 568, 'A', fontsize=7, weight='bold', ha='center', va='center')
fig.text(10 / 708, 1 - 291 / 568, 'B', fontsize=7, weight='bold', ha='center', va='center')

fig.savefig('out.png', dpi=100)
